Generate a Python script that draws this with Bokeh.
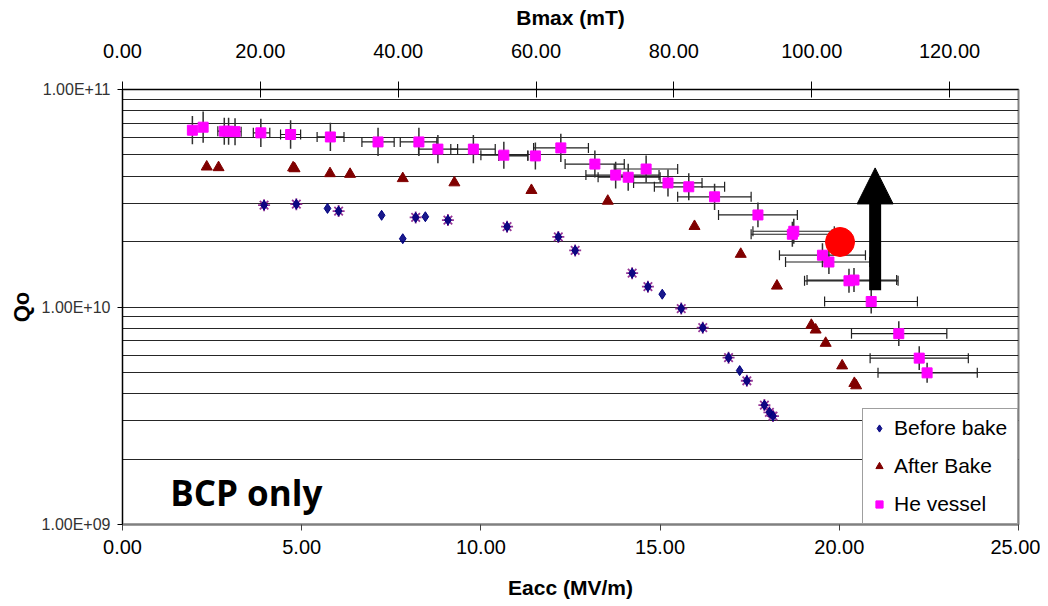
from bokeh.plotting import figure
from bokeh.models import (Range1d, LinearAxis, FixedTicker, NumeralTickFormatter,
                          CustomJSTickFormatter, Whisker, TeeHead, ColumnDataSource,
                          Legend, LegendItem, Label, Arrow, NormalHead)
from bokeh.embed import file_html
from bokeh.resources import INLINE

# ---------------- data ----------------
# He vessel (magenta squares): Eacc [MV/m], Qo, horizontal error range, vertical error (dex)
he_eacc = [1.95, 2.25, 2.84, 2.96, 3.14, 3.86, 4.69, 5.80, 7.13, 8.27, 8.80, 9.79, 10.64,
           11.52, 12.23, 13.18, 13.76, 14.11, 14.61, 15.22, 15.80, 16.52, 17.73, 18.73,
           18.69, 19.53, 19.71, 20.27, 20.41, 20.89, 21.66, 22.23, 22.45]
he_q = [6.50e10, 6.71e10, 6.43e10, 6.43e10, 6.40e10, 6.32e10, 6.21e10, 6.05e10, 5.74e10,
        5.74e10, 5.32e10, 5.32e10, 4.99e10, 4.95e10, 5.39e10, 4.54e10, 4.04e10, 3.95e10,
        4.31e10, 3.72e10, 3.57e10, 3.21e10, 2.65e10, 2.23e10, 2.16e10, 1.73e10, 1.61e10,
        1.32e10, 1.33e10, 1.06e10, 7.54e9, 5.82e9, 4.98e9]
he_elo = [1.95, 2.25, 2.66, 2.80, 2.96, 3.65, 4.41, 5.43, 6.68, 7.75, 8.26, 9.16, 10.00,
          10.50, 11.47, 12.35, 12.93, 13.27, 13.72, 14.26, 14.84, 15.49, 16.63, 17.59,
          17.54, 18.33, 18.50, 19.03, 19.10, 19.59, 20.34, 20.86, 21.08]
he_ehi = [1.95, 2.25, 3.02, 3.12, 3.31, 4.11, 4.97, 6.18, 7.58, 8.77, 9.35, 10.40, 11.31,
          11.31, 13.00, 14.00, 14.97, 15.00, 15.49, 16.17, 16.80, 17.54, 18.83, 19.86,
          19.80, 20.73, 20.85, 21.64, 21.60, 22.18, 23.00, 23.60, 23.85]
he_qerr = [0.065, 0.072, 0.062, 0.062, 0.062, 0.065, 0.065, 0.065, 0.065, 0.065, 0.065,
           0.065, 0.062, 0.062, 0.065, 0.062, 0.062, 0.062, 0.062, 0.062, 0.062, 0.060,
           0.057, 0.057, 0.057, 0.055, 0.055, 0.055, 0.055, 0.055, 0.057, 0.055, 0.046]

# Before bake (navy diamonds)
bb_eacc = [3.95, 4.85, 5.72, 6.03, 7.23, 7.82, 8.18, 8.45, 9.08, 10.73, 12.16, 12.63,
           14.22, 14.66, 15.06, 15.59, 16.19, 16.91, 17.22, 17.42, 17.91, 18.05, 18.15]
bb_q = [2.94e10, 2.97e10, 2.84e10, 2.76e10, 2.64e10, 2.06e10, 2.58e10, 2.60e10, 2.51e10,
        2.34e10, 2.10e10, 1.82e10, 1.43e10, 1.24e10, 1.145e10, 9.84e9, 8.03e9, 5.85e9,
        5.10e9, 4.58e9, 3.54e9, 3.28e9, 3.15e9]

# unlabeled overlay series (purple asterisks)
st_eacc = [3.95, 4.85, 6.03, 8.18, 9.08, 10.73, 12.16, 12.63, 14.22, 14.66, 15.59, 16.19,
           16.91, 17.42, 17.91, 18.05, 18.15]
st_q = [2.94e10, 2.97e10, 2.76e10, 2.58e10, 2.51e10, 2.34e10, 2.10e10, 1.82e10, 1.43e10,
        1.24e10, 9.84e9, 8.03e9, 5.85e9, 4.58e9, 3.54e9, 3.28e9, 3.15e9]

# After Bake (dark red triangles)
ab_eacc = [2.35, 2.68, 4.76, 4.80, 5.79, 6.35, 7.82, 9.26, 11.41, 13.54, 15.96, 17.25,
           18.26, 19.22, 19.34, 19.62, 20.08, 20.42, 20.47]
ab_q = [4.41e10, 4.38e10, 4.37e10, 4.33e10, 4.11e10, 4.08e10, 3.90e10, 3.73e10, 3.44e10,
        3.07e10, 2.35e10, 1.75e10, 1.25e10, 8.25e9, 7.85e9, 6.82e9, 5.37e9, 4.46e9, 4.35e9]

# red dot and arrow
dot_eacc, dot_q = 20.02, 1.99e10
arrow_eacc, arrow_q_start, arrow_q_base, arrow_q_tip = 21.0, 1.195e10, 2.99e10, 4.36e10

# annotation
note_text, note_eacc, note_q = "BCP only", 1.33, 1.41e9

# axes
x_ticks = [0, 5, 10, 15, 20, 25]
bmax_ticks = [0, 20, 40, 60, 80, 100, 120]
q_major = [1e9, 1e10, 1e11]
q_grid = [m * 10 ** k for k in (9, 10) for m in range(1, 10)] + [1e11]

FONT = "Liberation Sans"

p = figure(width=1040, height=603, x_range=Range1d(0, 25), y_range=Range1d(1e9, 1e11),
           y_axis_type="log", output_backend="svg", toolbar_location=None,
           min_border_left=122, min_border_right=22, min_border_top=89,
           min_border_bottom=79, background_fill_color="white", border_fill_color="white")
p.outline_line_color = "#808080"
p.outline_line_width = 2

# grid
p.xgrid.visible = False
p.ygrid.ticker = FixedTicker(ticks=q_grid)
p.ygrid.grid_line_color = "#000000"
p.ygrid.grid_line_alpha = 0.85
p.ygrid.grid_line_width = 1
p.ygrid.minor_grid_line_color = None

# bottom axis
xa = p.xaxis[0]
xa.ticker = FixedTicker(ticks=x_ticks)
xa.formatter = NumeralTickFormatter(format="0.00")
xa.axis_label = "Eacc (MV/m)"
xa.axis_label_text_font = FONT
xa.axis_label_text_font_style = "bold"
xa.axis_label_text_font_size = "21px"
xa.axis_label_text_color = "black"
xa.axis_label_standoff = 19
xa.major_label_text_font = FONT
xa.major_label_text_font_size = "20px"
xa.major_label_text_color = "black"
xa.major_label_standoff = 9
xa.axis_line_color = "#808080"
xa.axis_line_width = 2
xa.major_tick_out = 6
xa.major_tick_in = 0
xa.major_tick_line_color = "#404040"
xa.minor_tick_line_color = None

# left axis
ya = p.yaxis[0]
ya.ticker = FixedTicker(ticks=q_major)
ya.formatter = CustomJSTickFormatter(code="""
const e = Math.round(Math.log10(tick));
const m = tick / Math.pow(10, e);
const es = (e < 10 ? '0' : '') + e;
return m.toFixed(2) + 'E+' + es;
""")
ya.axis_label = "Qo"
ya.axis_label_text_font = FONT
ya.axis_label_text_font_style = "bold"
ya.axis_label_text_font_size = "22px"
ya.axis_label_text_color = "black"
ya.axis_label_standoff = 5
ya.major_label_text_font = FONT
ya.major_label_text_font_size = "16px"
ya.major_label_text_color = "#333333"
ya.major_label_standoff = 7
ya.axis_line_color = "black"
ya.major_tick_out = 5
ya.major_tick_in = 0
ya.minor_tick_line_color = None

# top axis (Bmax)
p.extra_x_ranges = {"bmax": Range1d(0, 130)}
ta = LinearAxis(x_range_name="bmax", ticker=FixedTicker(ticks=bmax_ticks),
                formatter=NumeralTickFormatter(format="0.00"), axis_label="Bmax (mT)")
ta.axis_label_text_font = FONT
ta.axis_label_text_font_style = "bold"
ta.axis_label_text_font_size = "21px"
ta.axis_label_text_color = "black"
ta.axis_label_standoff = 12
ta.major_label_text_font = FONT
ta.major_label_text_font_size = "20px"
ta.major_label_text_color = "black"
ta.major_label_standoff = 24
ta.axis_line_color = "black"
ta.major_tick_in = 8
ta.major_tick_out = 8
ta.minor_tick_line_color = None
p.add_layout(ta, "above")

# error bars for He vessel
pairs = [(e, q, lo, hi) for e, q, lo, hi in zip(he_eacc, he_q, he_elo, he_ehi) if hi > lo]
hsrc = ColumnDataSource(dict(q=[t[1] for t in pairs], lo=[t[2] for t in pairs],
                             hi=[t[3] for t in pairs]))
wh = Whisker(source=hsrc, base="q", lower="lo", upper="hi", dimension="width",
             line_color="#202020", line_width=1.2,
             lower_head=TeeHead(size=10, line_color="#202020", line_width=1.2),
             upper_head=TeeHead(size=10, line_color="#202020", line_width=1.2))
p.add_layout(wh)
p.segment(x0=he_eacc, y0=[q / 10 ** d for q, d in zip(he_q, he_qerr)],
          x1=he_eacc, y1=[q * 10 ** d for q, d in zip(he_q, he_qerr)],
          line_color="#303030", line_width=1.5)

# series
r_ab = p.scatter(ab_eacc, ab_q, marker="triangle", size=11, fill_color="#800000",
                 line_color="#800000")
r_st = p.scatter(st_eacc, st_q, marker="asterisk", size=12, line_color="#8B208B",
                 line_width=1.8, line_alpha=0.9)
r_bb = p.scatter(bb_eacc, bb_q, marker="diamond", size=10, fill_color="#000080",
                 line_color="#000080", fill_alpha=0.9)
r_he = p.scatter(he_eacc, he_q, marker="square", size=10, fill_color="#FF00FF",
                 line_color="#FF00FF")

# red dot and arrow
p.scatter([dot_eacc], [dot_q], marker="circle", size=29, fill_color="#FF0000",
          line_color="#FF0000")
p.segment(x0=[arrow_eacc], y0=[arrow_q_start], x1=[arrow_eacc], y1=[arrow_q_base],
          line_color="black", line_width=12)
p.add_layout(Arrow(end=NormalHead(size=36, fill_color="black", line_color="black"),
                   x_start=arrow_eacc, y_start=arrow_q_base, x_end=arrow_eacc,
                   y_end=arrow_q_tip, line_width=1, line_color="black"))

# BCP only
p.add_layout(Label(x=note_eacc, y=note_q, text=note_text, text_font="Open Sans",
                   text_font_style="bold", text_font_size="35px", text_color="black",
                   text_baseline="alphabetic"))

legend = Legend(items=[LegendItem(label="Before bake", renderers=[r_bb]),
                       LegendItem(label="After Bake", renderers=[r_ab]),
                       LegendItem(label="He vessel", renderers=[r_he])],
                location=(740, 0), orientation="vertical")
legend.label_text_font = FONT
legend.label_text_font_size = "21px"
legend.label_text_color = "black"
legend.glyph_width = 18
legend.glyph_height = 20
legend.label_height = 20
legend.label_width = 116
legend.label_standoff = 6
legend.padding = 7
legend.spacing = 14
legend.border_line_color = "#404040"
legend.border_line_width = 1
legend.background_fill_color = "white"
legend.background_fill_alpha = 1
legend.margin = 0
p.add_layout(legend)

open("out.html", "w").write(file_html(p, INLINE))
